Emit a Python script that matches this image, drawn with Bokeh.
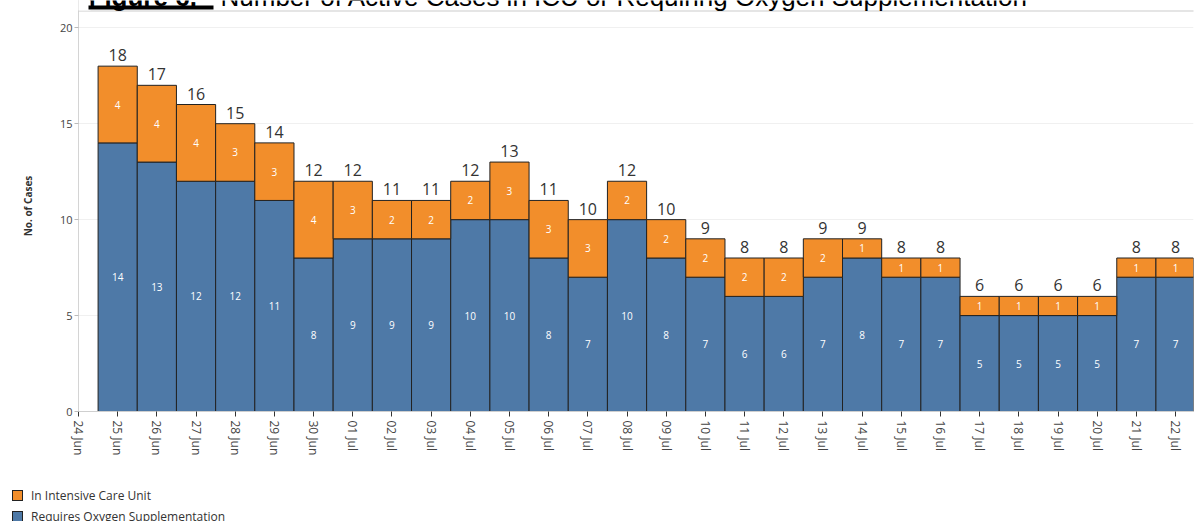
import pandas as pd
from bokeh.plotting import figure
from bokeh.layouts import column
from bokeh.models import (ColumnDataSource, Range1d, DaysTicker, DatetimeTickFormatter,
                          FixedTicker, Label, BoxAnnotation, Div)
from bokeh.core.properties import value
from bokeh.embed import file_html
from bokeh.resources import INLINE

# ---- data ----
dates = ["2021-06-25", "2021-06-26", "2021-06-27", "2021-06-28", "2021-06-29", "2021-06-30",
         "2021-07-01", "2021-07-02", "2021-07-03", "2021-07-04", "2021-07-05", "2021-07-06",
         "2021-07-07", "2021-07-08", "2021-07-09", "2021-07-10", "2021-07-11", "2021-07-12",
         "2021-07-13", "2021-07-14", "2021-07-15", "2021-07-16", "2021-07-17", "2021-07-18",
         "2021-07-19", "2021-07-20", "2021-07-21", "2021-07-22"]
oxygen = [14, 13, 12, 12, 11, 8, 9, 9, 9, 10, 10, 8, 7, 10, 8, 7, 6, 6, 7, 8, 7, 7, 5, 5, 5, 5, 7, 7]
icu = [4, 4, 4, 3, 3, 4, 3, 2, 2, 2, 3, 3, 3, 2, 2, 2, 2, 2, 2, 1, 1, 1, 1, 1, 1, 1, 1, 1]
series_names = ["In Intensive Care Unit", "Requires Oxygen Supplementation"]
y_ticks = [0, 5, 10, 15, 20]
title_bold = "Figure 6."
title_rest = "Number of Active Cases in ICU or Requiring Oxygen Supplementation"

BLUE = "#4E79A7"
ORANGE = "#F28E2B"
EDGE = "#222222"
FONT = "Open Sans"
series_colors = [ORANGE, BLUE]

df = pd.DataFrame({"date": pd.to_datetime(dates), "oxygen": oxygen, "icu": icu})
df["total"] = df["oxygen"] + df["icu"]
df["oxy_mid"] = df["oxygen"] / 2
df["icu_mid"] = df["oxygen"] + df["icu"] / 2
df["oxy_txt"] = df["oxygen"].astype(str)
df["icu_txt"] = df["icu"].astype(str)
df["tot_txt"] = df["total"].astype(str)
src = ColumnDataSource(df)

DAY = 86400000
PX_PER_UNIT = 401 / 20.9

p = figure(x_axis_type="datetime", width=1198, height=480,
           x_range=Range1d(pd.Timestamp("2021-06-24"), pd.Timestamp("2021-07-22 11:00")),
           y_range=Range1d(0, 411 / PX_PER_UNIT),
           output_backend="svg", toolbar_location=None,
           min_border_left=78, min_border_right=5, min_border_top=0, min_border_bottom=69)
p.outline_line_color = None
p.background_fill_color = "white"
p.border_fill_color = "white"

renderers = p.vbar_stack(["oxygen", "icu"], x="date", width=DAY, source=src,
                         fill_color=[BLUE, ORANGE], line_color=EDGE, line_width=1)

p.text(x="date", y="oxy_mid", text="oxy_txt", source=src, text_align="center",
       text_baseline="middle", text_color="white", text_font=value(FONT), text_font_size="10px")
p.text(x="date", y="icu_mid", text="icu_txt", source=src, text_align="center",
       text_baseline="middle", text_color="white", text_font=value(FONT), text_font_size="10px")
p.text(x="date", y="total", text="tot_txt", source=src, text_align="center",
       text_baseline="bottom", y_offset=-5, text_color="#333333", text_font=value(FONT),
       text_font_size="16px")

# axes
p.xaxis.ticker = DaysTicker(days=list(range(1, 32)))
p.xaxis.formatter = DatetimeTickFormatter(days="%d %b", months="%d %b")
p.xaxis.major_label_orientation = "vertical"
p.xaxis.major_label_text_font = FONT
p.xaxis.major_label_text_font_size = "12px"
p.xaxis.major_label_text_color = "#444444"
p.xaxis.major_label_standoff = 4
p.xaxis.major_tick_out = 5
p.xaxis.major_tick_in = 0
p.xaxis.major_tick_line_color = "#333333"
p.xaxis.minor_tick_line_color = None
p.xaxis.axis_line_color = "#cfcfcf"

p.yaxis.ticker = FixedTicker(ticks=y_ticks)
p.yaxis.major_label_text_font = FONT
p.yaxis.major_label_text_font_size = "11px"
p.yaxis.major_label_text_color = "#444444"
p.yaxis.major_label_standoff = 2
p.yaxis.major_tick_out = 4
p.yaxis.major_tick_in = 0
p.yaxis.major_tick_line_color = "#bbbbbb"
p.yaxis.minor_tick_line_color = None
p.yaxis.axis_line_color = "#d4d4d4"
p.yaxis.axis_label = "No. of Cases"
p.yaxis.axis_label_text_font = FONT
p.yaxis.axis_label_text_font_style = "bold"
p.yaxis.axis_label_text_font_size = "10px"
p.yaxis.axis_label_text_color = "#333333"
p.yaxis.axis_label_standoff = 22

p.xgrid.grid_line_color = None
p.ygrid.grid_line_color = "#f0f0f0"

# white mask over axis line above the header divider, header divider
p.add_layout(BoxAnnotation(left=70, right=90, top=0, bottom=10,
                           left_units="canvas", right_units="canvas",
                           top_units="canvas", bottom_units="canvas",
                           fill_color="white", fill_alpha=1, line_color=None, level="overlay"))
p.add_layout(BoxAnnotation(left=0, right=1198, top=10, bottom=11,
                           left_units="canvas", right_units="canvas",
                           top_units="canvas", bottom_units="canvas",
                           fill_color="#cccccc", fill_alpha=1, line_color=None))

# title (clipped at top as in the original)
p.add_layout(Label(x=88, y=11, x_units="canvas", y_units="canvas", text=title_bold,
                   text_font="Liberation Sans", text_font_style="bold",
                   text_font_size="26px", text_baseline="bottom", text_color="black"))
p.add_layout(BoxAnnotation(left=88, right=213, top=5, bottom=9,
                           left_units="canvas", right_units="canvas",
                           top_units="canvas", bottom_units="canvas",
                           fill_color="black", fill_alpha=1, line_color=None, level="overlay"))
p.add_layout(Label(x=220, y=11, x_units="canvas", y_units="canvas", text=title_rest,
                   text_font="Liberation Sans", text_font_size="26px",
                   text_baseline="bottom", text_color="black"))

# legend strip below the chart (HTML, left-aligned like the original)
items_html = ""
for i, (name, col) in enumerate(zip(series_names, series_colors)):
    top = 10 + 21 * i
    items_html += (
        f'<div style="position:absolute;left:12px;top:{top}px;width:11px;height:11px;'
        f'background:{col};border:1px solid {EDGE};"></div>'
        f'<div style="position:absolute;left:31px;top:{top - 3}px;line-height:17px;'
        f'white-space:nowrap;">{name}</div>'
    )
legend_html = (f'<div style="position:relative;width:1198px;height:41px;overflow:hidden;'
               f"font-family:'{FONT}';font-size:12px;color:#333333;\">{items_html}</div>")
legend_div = Div(text=legend_html, width=1198, height=41, margin=0)

layout = column(p, legend_div, spacing=0)
open("out.html", "w").write(file_html(layout, INLINE))
